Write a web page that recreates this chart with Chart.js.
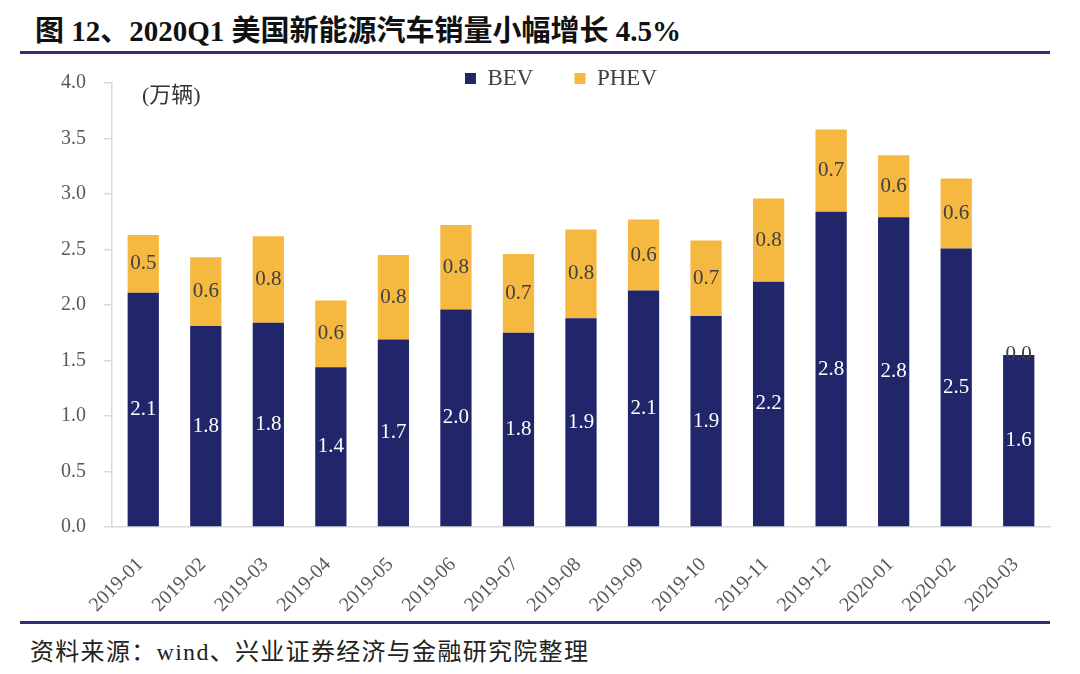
<!DOCTYPE html>
<html>
<head>
<meta charset="utf-8">
<script src="https://cdn.jsdelivr.net/npm/chart.js@4.4.1/dist/chart.umd.min.js"></script>
<style>
  body { margin: 0; background: #fff; width: 1080px; height: 674px; position: relative; overflow: hidden; }
  #title { position: absolute; left: 35px; top: 7px; font-family: "Liberation Serif", "Noto Sans CJK SC", serif; font-weight: bold; font-size: 29px; color: #111; white-space: nowrap; }
  .rule { position: absolute; left: 20px; width: 1030px; height: 3px; background: #2b3177; }
  #unit { position: absolute; left: 142px; top: 76px; font-family: "Liberation Serif", "Noto Sans CJK SC", serif; font-size: 22px; color: #333; }
  #source { position: absolute; left: 30px; top: 632px; font-family: "Liberation Serif", "Noto Sans CJK SC", sans-serif; font-size: 24px; letter-spacing: 1.3px; color: #222; white-space: nowrap; }
  #wrap { position: absolute; left: 0; top: 9px; width: 1080px; height: 611px; }
</style>
</head>
<body>
<div id="title">图 12、2020Q1 美国新能源汽车销量小幅增长 4.5%</div>
<div class="rule" style="top:51px"></div>
<div class="rule" style="top:621px"></div>
<div id="source">资料来源：wind、兴业证券经济与金融研究院整理</div>
<div id="wrap"><canvas id="salesChart"></canvas></div>
<div id="unit">(万辆)</div>

<script>
// monthly sales, 10k vehicles
const months = ['2019-01','2019-02','2019-03','2019-04','2019-05','2019-06','2019-07','2019-08',
  '2019-09','2019-10','2019-11','2019-12','2020-01','2020-02','2020-03'];
const bev  = [2.11, 1.81, 1.84, 1.44, 1.69, 1.96, 1.75, 1.88, 2.13, 1.90, 2.21, 2.84, 2.79, 2.51, 1.55];
const phev = [0.52, 0.62, 0.78, 0.60, 0.76, 0.76, 0.71, 0.80, 0.64, 0.68, 0.75, 0.74, 0.56, 0.63, 0.00];
const yTicks = [0, 0.5, 1, 1.5, 2, 2.5, 3, 3.5, 4];

const BEV_COLOR = '#21266b';
const PHEV_COLOR = '#f5b942';
const SERIF = '"Liberation Serif", "Times New Roman", serif';

// value labels inside each stacked segment
const segmentLabels = {
  id: 'segmentLabels',
  afterDatasetsDraw(chart) {
    const ctx = chart.ctx;
    ctx.save();
    ctx.font = '21px ' + SERIF;
    ctx.textAlign = 'center';
    ctx.textBaseline = 'middle';
    chart.data.datasets.forEach((ds, i) => {
      const meta = chart.getDatasetMeta(i);
      meta.data.forEach((bar, j) => {
        const v = ds.data[j];
        ctx.fillStyle = i === 0 ? '#ffffff' : '#404040';
        const y = v === 0 ? bar.y : (bar.y + bar.base) / 2;
        ctx.fillText(v.toFixed(1), bar.x, y);
      });
    });
    ctx.restore();
  }
};

// the legend sits lower and a bit right, just over the top of the plot
const legendShift = {
  id: 'legendShift',
  afterLayout(chart) {
    const lg = chart.legend;
    if (lg) {
      lg.top += 17; lg.bottom += 17;
      lg.left += 36; lg.right += 36;
    }
  }
};

new Chart(document.getElementById('salesChart'), {
  type: 'bar',
  data: {
    labels: months,
    datasets: [
      { label: 'BEV', data: bev, backgroundColor: BEV_COLOR },
      { label: 'PHEV', data: phev, backgroundColor: PHEV_COLOR }
    ]
  },
  options: {
    responsive: true,
    maintainAspectRatio: false,
    animation: false,
    layout: { padding: { top: 0, right: 30, left: 0, bottom: 0 } },
    datasets: { bar: { barPercentage: 0.5, categoryPercentage: 1 } },
    plugins: {
      legend: {
        position: 'top',
        align: 'center',
        labels: {
          font: { family: SERIF, size: 23 },
          color: '#404040',
          boxWidth: 11,
          boxHeight: 11,
          padding: 41
        }
      },
      tooltip: { enabled: false }
    },
    scales: {
      x: {
        stacked: true,
        grid: { display: false },
        border: { color: '#d9d9d9', width: 1.5 },
        ticks: {
          font: { family: SERIF, size: 20 },
          color: '#595959',
          minRotation: 45,
          maxRotation: 45,
          padding: 18,
          labelOffset: -3
        },
        afterFit(scale) { scale.height = 93; }
      },
      y: {
        stacked: true,
        min: 0,
        max: 4,
        afterBuildTicks(scale) { scale.ticks = yTicks.map(v => ({ value: v })); },
        grid: { drawOnChartArea: false, tickLength: 8, color: '#d9d9d9', lineWidth: 1.5 },
        border: { color: '#d9d9d9', width: 1.5 },
        ticks: {
          font: { family: SERIF, size: 20 },
          color: '#595959',
          padding: 18,
          callback: v => Number(v).toFixed(1)
        },
        afterFit(scale) { scale.width = 112; }
      }
    }
  },
  plugins: [segmentLabels, legendShift]
});
</script>
</body>
</html>
